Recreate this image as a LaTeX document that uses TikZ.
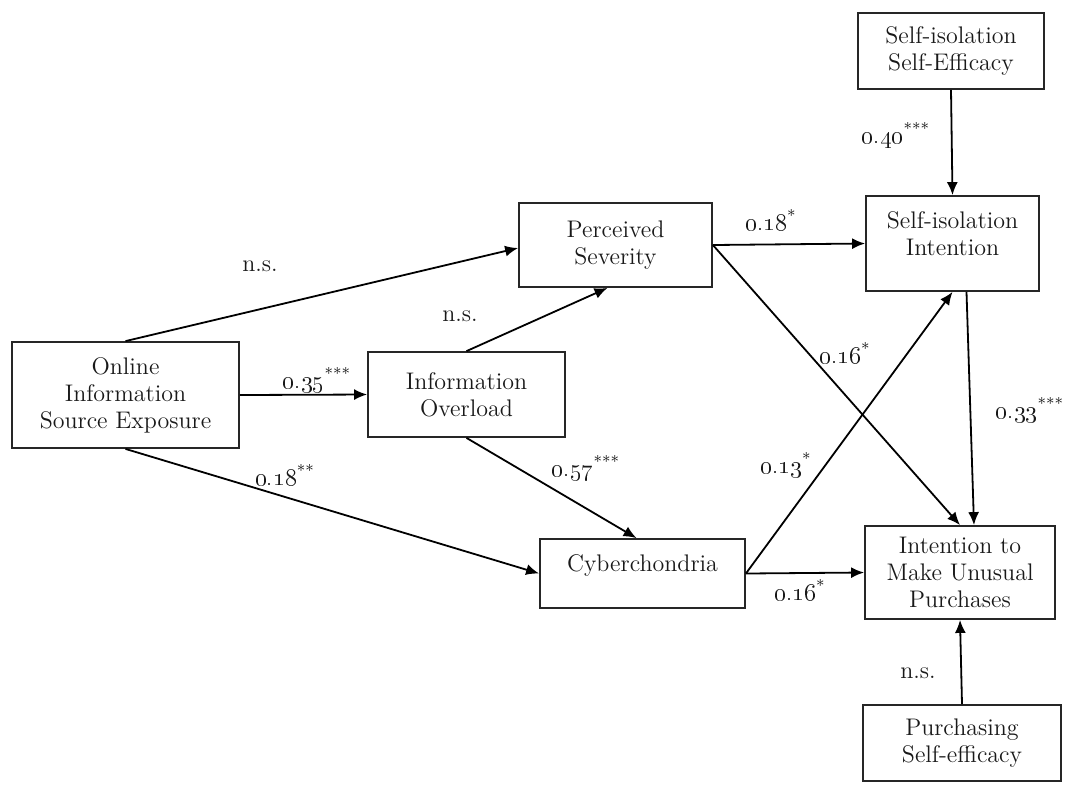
\documentclass[tikz,border=0pt]{standalone}
\usetikzlibrary{arrows.meta}
\begin{document}
\begin{tikzpicture}[x=0.5pt,y=-0.5pt,
  box/.style={draw=black!85,line width=0.9pt,align=center,inner sep=2pt,
    font=\fontsize{12}{13.5}\selectfont,text=black!90},
  coef/.style={font=\fontsize{12}{13.5}\selectfont,text=black!90,inner sep=1pt},
  arr/.style={line width=0.9pt,-{Latex[length=6.5pt,width=5.5pt]}}]
  \useasboundingbox (0,0) rectangle (1070,784);
  % Boxes
  \node[box,minimum width=113.5pt,minimum height=53pt] (oise) at (125.5,395) {Online\\Information\\Source Exposure};
  \node[box,minimum width=98.5pt,minimum height=42.5pt] (io) at (466.5,394.5) {Information\\Overload};
  \node[box,minimum width=96.5pt,minimum height=42pt] (ps) at (615.5,245) {Perceived\\Severity};
  \node[box,minimum width=102.5pt,minimum height=34.5pt,text depth=10pt] (cy) at (642.5,573.5) {Cyberchondria};
  \node[box,minimum width=93pt,minimum height=38pt] (sise) at (951,51) {Self-isolation\\Self-Efficacy};
  \node[box,minimum width=86.5pt,minimum height=47.5pt,text depth=10pt] (sii) at (952.5,243.5) {Self-isolation\\Intention};
  \node[box,minimum width=95pt,minimum height=46.5pt] (imup) at (960,572.5) {Intention to\\Make Unusual\\Purchases};
  \node[box,minimum width=99pt,minimum height=38pt] (purch) at (962,743) {Purchasing\\Self-efficacy};
  % Paths
  \draw[arr] (oise.north) -- ([yshift=-1.5pt]ps.west);
  \draw[arr] (oise.east) -- (io.west);
  \draw[arr] (oise.south) -- (cy.west);
  \draw[arr] (io.north) -- ([xshift=-4pt]ps.south);
  \draw[arr] (io.south) -- ([xshift=-3pt]cy.north);
  \draw[arr] (ps.east) -- (sii.west);
  \draw[arr] (ps.east) -- (imup.north);
  \draw[arr] (cy.east) -- (sii.south);
  \draw[arr] (cy.east) -- (imup.west);
  \draw[arr] ([xshift=7pt]sii.south) -- ([xshift=7pt]imup.north);
  \draw[arr] (sise.south) -- (sii.north);
  \draw[arr] (purch.north) -- (imup.south);
  % Coefficients
  \node[coef] (ns1) at (260,266) {n.s.};
  \node[coef] (ns2) at (460,316) {n.s.};
  \node[coef] (c035) at (317,380) {\oldstylenums{0.35}\textsuperscript{***}};
  \node[coef] (c018b) at (285,475) {\oldstylenums{0.18}\textsuperscript{**}};
  \node[coef] (c057) at (586,468) {\oldstylenums{0.57}\textsuperscript{***}};
  \node[coef] (c018a) at (771,220) {\oldstylenums{0.18}\textsuperscript{*}};
  \node[coef] (c016a) at (845,353) {\oldstylenums{0.16}\textsuperscript{*}};
  \node[coef] (c013) at (786,465) {\oldstylenums{0.13}\textsuperscript{*}};
  \node[coef] (c016b) at (800,590) {\oldstylenums{0.16}\textsuperscript{*}};
  \node[coef] (c033) at (1030,410) {\oldstylenums{0.33}\textsuperscript{***}};
  \node[coef] (c040) at (896,135) {\oldstylenums{0.40}\textsuperscript{***}};
  \node[coef] (ns3) at (918,673) {n.s.};
\end{tikzpicture}
\end{document}
